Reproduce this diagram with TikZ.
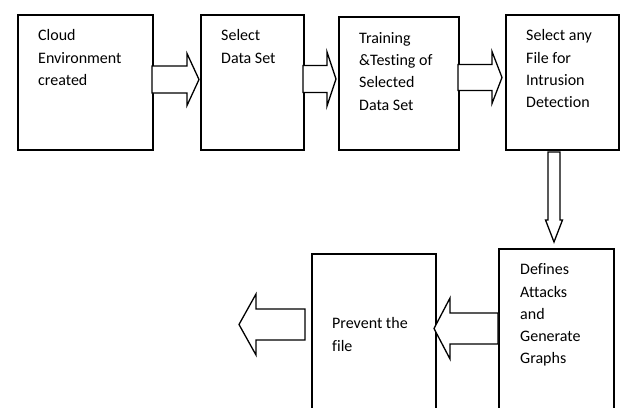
\documentclass[tikz,border=0pt]{standalone}
\usepackage{fontspec}
\setmainfont{Carlito}[Ligatures=NoCommon]
\usetikzlibrary{calc}
\tikzset{
  box/.style={draw, line width=1.5pt, inner sep=0pt, anchor=north west},
  blk/.style={draw, line width=1.3pt, fill=white, line join=miter},
  txt/.style={anchor=base west, inner sep=0pt},
}
\newcommand{\boxtext}[1]{\parbox[t]{4cm}{\fontsize{16}{22.3}\selectfont\raggedright #1}}
% \blockarrow{tail}{tip}{shaft half}{head half}{head length}  (lengths in pt)
\newcommand{\blockarrow}[5]{%
  \coordinate (bah) at ($(#2)!#5pt!(#1)$);
  \draw[blk] ($(#1)!#3pt!90:(#2)$) -- ($(bah)!#3pt!-90:(#1)$)
    -- ($(bah)!#4pt!-90:(#1)$) -- (#2)
    -- ($(bah)!#4pt!90:(#1)$) -- ($(bah)!#3pt!90:(#1)$)
    -- ($(#1)!#3pt!-90:(#2)$) -- cycle;}
\begin{document}
\begin{tikzpicture}[x=1pt,y=-1pt]
\useasboundingbox (0,0) rectangle (620,407);
\begin{scope}
\clip (0,0) rectangle (620,407);
\node[box, minimum width=135pt, minimum height=135pt] (b1) at (17,14) {};
\node[box, minimum width=103pt, minimum height=135pt] (b2) at (200,14) {};
\node[box, minimum width=120pt, minimum height=133pt] (b3) at (338,16) {};
\node[box, minimum width=113pt, minimum height=135pt] (b4) at (505,14) {};
\node[box, minimum width=115pt, minimum height=170pt] (b5) at (498,248) {};
\node[box, minimum width=124pt, minimum height=170pt] (b6) at (311,253) {};
\end{scope}

\node[txt] (t1) at (38,40.7) {\boxtext{Cloud\\Environment\\created}};
\node[txt] (t2) at (221,40.7) {\boxtext{Select\\Data Set}};
\node[txt] (t3) at (359,43.3) {\boxtext{Training\\\&Testing of\\Selected\\Data Set}};
\node[txt] (t4) at (526,40.7) {\boxtext{Select any\\File for\\Intrusion\\Detection}};
\node[txt] (t5) at (520,274.7) {\boxtext{Defines\\Attacks\\and\\Generate\\Graphs}};
\node[txt] (t6) at (332,328.7) {\boxtext{Prevent the\\file}};

\coordinate (a1t) at (152,79.5);  \coordinate (a1p) at (199,79.5);
\coordinate (a2t) at (303,79);    \coordinate (a2p) at (336,79);
\coordinate (a3t) at (458,77.5);  \coordinate (a3p) at (502,77.5);
\coordinate (a4t) at (554,152);   \coordinate (a4p) at (554,242);
\coordinate (a5t) at (498,328.5); \coordinate (a5p) at (434,328.5);
\coordinate (a6t) at (305,324.5); \coordinate (a6p) at (239,324.5);

\blockarrow{a1t}{a1p}{13.5}{26}{12}
\blockarrow{a2t}{a2p}{13.5}{27}{9}
\blockarrow{a3t}{a3p}{13}{26}{10}
\blockarrow{a4t}{a4p}{6}{8.5}{22}
\blockarrow{a5t}{a5p}{15.5}{30.5}{16}
\blockarrow{a6t}{a6p}{15.5}{30.5}{17}
\end{tikzpicture}
\end{document}
